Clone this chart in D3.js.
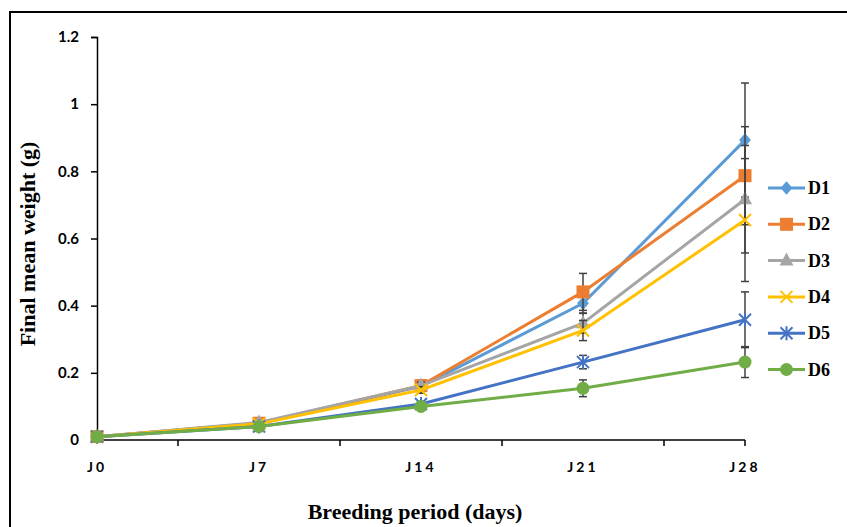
<!DOCTYPE html>
<html>
<head>
<meta charset="utf-8">
<script src="https://cdn.jsdelivr.net/npm/d3@7"></script>
<style>
  body { margin: 0; background: #fff; }
  svg { display: block; }
</style>
</head>
<body>
<div class="myViz"></div>
<script>
// data
var days = ["J0", "J7", "J14", "J21", "J28"];
var seriesNames = ["D1", "D2", "D3", "D4", "D5", "D6"];
var D1 = [0.01, 0.05, 0.16, 0.407, 0.893];
var D2 = [0.01, 0.05, 0.162, 0.441, 0.787];
var D3 = [0.01, 0.052, 0.162, 0.348, 0.717];
var D4 = [0.01, 0.048, 0.149, 0.326, 0.655];
var D5 = [0.01, 0.04, 0.107, 0.232, 0.358];
var D6 = [0.01, 0.04, 0.1, 0.154, 0.232];
// standard errors
var E1 = [0.002, 0.005, 0.01, 0.03, 0.17];
var E2 = [0.002, 0.005, 0.016, 0.055, 0.146];
var E3 = [0.002, 0.005, 0.01, 0.03, 0.16];
var E4 = [0.002, 0.005, 0.01, 0.03, 0.183];
var E5 = [0.002, 0.004, 0.008, 0.02, 0.083];
var E6 = [0.002, 0.004, 0.006, 0.025, 0.046];
var yTicks = [0, 0.2, 0.4, 0.6, 0.8, 1, 1.2];
var colors = ["#5B9BD5", "#ED7D31", "#A5A5A5", "#FFC000", "#4472C4", "#70AD47"];
var symbols = ["diamond", "square", "triangle", "x", "asterisk", "circle"];

var values = [D1, D2, D3, D4, D5, D6];
var errors = [E1, E2, E3, E4, E5, E6];

var W = 847, H = 527;
var svg = d3.select(".myViz").append("svg")
  .attr("width", W).attr("height", H);

// outer frame (only top and left visible)
svg.append("path")
  .attr("d", "M10,527 L10,12 L847,12")
  .attr("fill", "none").attr("stroke", "#000").attr("stroke-width", 2);

var x = d3.scalePoint().domain(days).range([97, 745]);
var y = d3.scaleLinear().domain([0, 1.2]).range([440, 37]);

// y axis
var yAxis = svg.append("g")
  .attr("transform", "translate(97,0)")
  .call(d3.axisLeft(y).tickValues(yTicks).tickSizeOuter(0).tickSize(6).tickPadding(12)
    .tickFormat(d => d3.format("~g")(d)));
yAxis.select(".domain").attr("stroke", "#000").attr("stroke-width", 1.5);
yAxis.selectAll(".tick line").attr("stroke", "#000").attr("stroke-width", 1.5);
yAxis.selectAll("text")
  .style("font-family", "Lato, 'Open Sans', sans-serif")
  .style("font-weight", "bold").style("font-size", "15px").attr("fill", "#000");

// x axis: line, ticks between categories, labels
var midTicks = days.slice(1).map((d, i) => (x(days[i]) + x(d)) / 2).concat([x(days[days.length - 1])]);
var xAxis = svg.append("g");
xAxis.append("line")
  .attr("x1", x(days[0])).attr("x2", x(days[days.length - 1]))
  .attr("y1", y(0)).attr("y2", y(0))
  .attr("stroke", "#000").attr("stroke-width", 1.5);
xAxis.selectAll(".xt").data(midTicks).enter().append("line")
  .attr("x1", d => d).attr("x2", d => d)
  .attr("y1", y(0)).attr("y2", y(0) + 6)
  .attr("stroke", "#000").attr("stroke-width", 1.5);
xAxis.selectAll(".xl").data(days).enter().append("text")
  .attr("x", d => x(d)).attr("y", 472)
  .attr("text-anchor", "middle")
  .style("font-family", "Lato, 'Open Sans', sans-serif")
  .style("font-weight", "bold").style("font-size", "14px")
  .style("letter-spacing", "3px")
  .text(d => d);

// axis titles
svg.append("text")
  .attr("x", 415).attr("y", 519).attr("text-anchor", "middle")
  .style("font-family", "'Liberation Serif', 'Times New Roman', serif")
  .style("font-weight", "bold").style("font-size", "22px")
  .text("Breeding period (days)");
svg.append("text")
  .attr("transform", "translate(35,244) rotate(-90)")
  .attr("text-anchor", "middle")
  .style("font-family", "'Liberation Serif', 'Times New Roman', serif")
  .style("font-weight", "bold").style("font-size", "22px")
  .text("Final mean weight (g)");

// marker drawing helper
function drawMarker(g, type, cx, cy, color) {
  if (type === "diamond") {
    g.append("path").attr("d", d3.symbol(d3.symbolDiamond2, 90)())
      .attr("transform", `translate(${cx},${cy}) scale(1,1.15)`).attr("fill", color);
  } else if (type === "square") {
    g.append("rect").attr("x", cx - 6.5).attr("y", cy - 6.5).attr("width", 13).attr("height", 13).attr("fill", color);
  } else if (type === "triangle") {
    g.append("path").attr("d", `M${cx},${cy - 8} L${cx + 7},${cy + 5} L${cx - 7},${cy + 5} Z`).attr("fill", color);
  } else if (type === "x") {
    g.append("path").attr("d", `M${cx - 6},${cy - 6} L${cx + 6},${cy + 6} M${cx - 6},${cy + 6} L${cx + 6},${cy - 6}`)
      .attr("stroke", color).attr("stroke-width", 2);
  } else if (type === "asterisk") {
    g.append("path").attr("d", `M${cx - 6},${cy - 6} L${cx + 6},${cy + 6} M${cx - 6},${cy + 6} L${cx + 6},${cy - 6} M${cx},${cy - 7} L${cx},${cy + 7}`)
      .attr("stroke", color).attr("stroke-width", 2);
  } else {
    g.append("circle").attr("cx", cx).attr("cy", cy).attr("r", 6.5).attr("fill", color);
  }
}

var line = d3.line().x((d, i) => x(days[i])).y(d => y(d));

seriesNames.forEach(function(name, s) {
  var g = svg.append("g");
  // error bars
  values[s].forEach(function(v, i) {
    var e = errors[s][i];
    var cx = x(days[i]);
    g.append("line").attr("x1", cx).attr("x2", cx).attr("y1", y(v + e)).attr("y2", y(v - e))
      .attr("stroke", "#404040").attr("stroke-width", 1.5);
    [v + e, v - e].forEach(function(t) {
      g.append("line").attr("x1", cx - 4).attr("x2", cx + 4).attr("y1", y(t)).attr("y2", y(t))
        .attr("stroke", "#404040").attr("stroke-width", 1.5);
    });
  });
  g.append("path").datum(values[s]).attr("d", line)
    .attr("fill", "none").attr("stroke", colors[s]).attr("stroke-width", 3);
  values[s].forEach(function(v, i) {
    drawMarker(g, symbols[s], x(days[i]), y(v), colors[s]);
  });
});

// legend
var legend = svg.append("g");
seriesNames.forEach(function(name, s) {
  var ly = 188 + s * 36.3;
  legend.append("line").attr("x1", 768).attr("x2", 805).attr("y1", ly).attr("y2", ly)
    .attr("stroke", colors[s]).attr("stroke-width", 3);
  drawMarker(legend, symbols[s], 786.5, ly, colors[s]);
  legend.append("text").attr("x", 808).attr("y", ly + 6)
    .style("font-family", "'Liberation Serif', 'Times New Roman', serif")
    .style("font-weight", "bold").style("font-size", "18px")
    .text(name);
});
</script>
</body>
</html>
